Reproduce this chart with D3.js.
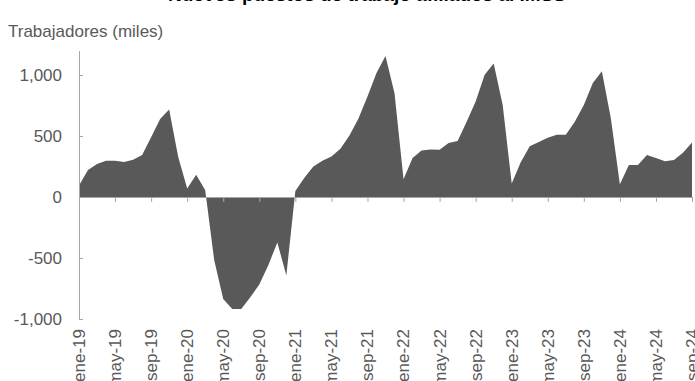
<!DOCTYPE html>
<html>
<head>
<meta charset="utf-8">
<script src="https://cdn.jsdelivr.net/npm/d3@7"></script>
<style>
  html, body { margin: 0; padding: 0; background: #ffffff; }
  svg { display: block; font-family: "Liberation Sans", Arial, sans-serif; }
</style>
</head>
<body>
<svg id="chart" width="695" height="381"></svg>
<script>
// Spanish month abbreviations used for the category labels
const monthNames = ["ene", "feb", "mar", "abr", "may", "jun", "jul", "ago", "sep", "oct", "nov", "dic"];
const yearLabels = ["19", "20", "21", "22", "23", "24"];

// Annual change in workers, thousands, one value per month (ene-19 .. sep-24)
const values2019 = [95, 222, 270, 297, 298, 286, 306, 345, 490, 640, 718, 330];
const values2020 = [70, 183, 55, -518, -836, -918, -918, -822, -718, -560, -372, -643];
const values2021 = [50, 158, 249, 298, 331, 395, 505, 643, 823, 1016, 1155, 851];
const values2022 = [146, 320, 381, 389, 387, 442, 458, 616, 782, 1003, 1094, 754];
const values2023 = [110, 284, 417, 450, 486, 511, 511, 616, 754, 934, 1030, 643];
const values2024 = [105, 262, 262, 345, 320, 293, 304, 362, 447];

const yTicks = [-1000, -500, 0, 500, 1000];

const values = [].concat(values2019, values2020, values2021, values2022, values2023, values2024);
const categories = [];
yearLabels.forEach(yr => monthNames.forEach(m => categories.push(m + "-" + yr)));
const data = values.map((v, i) => ({ cat: categories[i], value: v }));
const labelCats = categories.slice(0, values.length).filter((c, i) => i % 4 === 0);

const svg = d3.select("#chart");
const axisColor = "#a6a6a6";
const textColor = "#595959";
const fontSize = 17;

const x = d3.scalePoint()
  .domain(data.map(d => d.cat))
  .range([79, 692]);

const y = d3.scaleLinear()
  .domain([-1000, 1200])
  .range([319, 50.6]);

const fmt = d3.formatLocale({ decimal: ".", thousands: ",", grouping: [3], currency: ["$", ""], minus: "-" }).format(",");

// Title (sits at the very top edge)
svg.append("text")
  .attr("x", 367)
  .attr("y", 0.5)
  .attr("text-anchor", "middle")
  .attr("font-weight", "bold")
  .attr("font-size", 19)
  .attr("fill", "#000")
  .text("Nuevos puestos de trabajo afiliados al IMSS");

// Axis unit caption
svg.append("text")
  .attr("x", 8)
  .attr("y", 37)
  .attr("font-size", fontSize)
  .attr("fill", textColor)
  .text("Trabajadores (miles)");

// Filled area between the series and zero
const area = d3.area()
  .x(d => x(d.cat))
  .y0(y(0))
  .y1(d => y(d.value));

svg.append("path")
  .datum(data)
  .attr("d", area)
  .attr("fill", "#595959");

// Value axis with inward ticks
const yAxis = svg.append("g")
  .attr("transform", `translate(${x(categories[0])},0)`)
  .call(d3.axisLeft(y).tickValues(yTicks).tickFormat(fmt).tickSizeInner(-4).tickSizeOuter(0).tickPadding(17));
yAxis.selectAll("path, line").attr("stroke", axisColor);
yAxis.selectAll("text")
  .attr("font-size", fontSize)
  .attr("fill", textColor)
  .attr("font-family", "'Liberation Sans', Arial, sans-serif");

// Category axis along zero
const xAxis = svg.append("g")
  .attr("transform", `translate(0,${y(0)})`)
  .call(d3.axisBottom(x).tickValues(labelCats).tickFormat("").tickSizeInner(5).tickSizeOuter(0));
xAxis.selectAll("path, line").attr("stroke", axisColor);

// Rotated category labels below the plot
svg.append("g")
  .selectAll("text")
  .data(labelCats)
  .join("text")
  .attr("transform", d => `translate(${x(d)},329) rotate(-90)`)
  .attr("dy", "0.35em")
  .attr("text-anchor", "end")
  .attr("font-size", fontSize)
  .attr("fill", textColor)
  .text(d => d);
</script>
</body>
</html>
